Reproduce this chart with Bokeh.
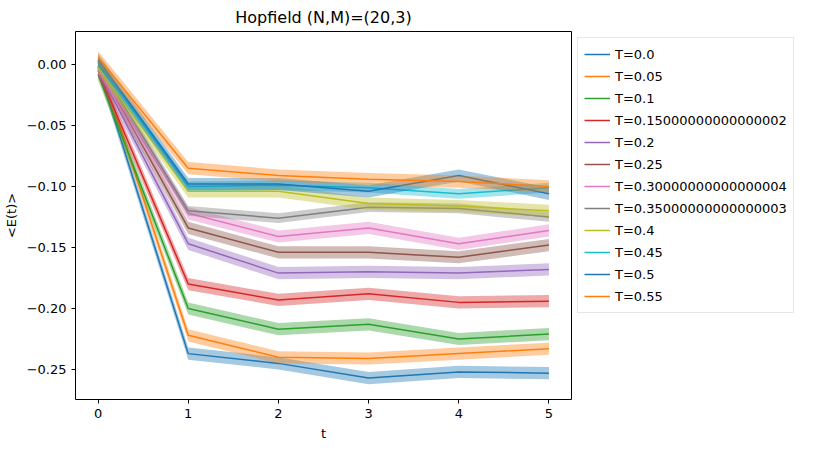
from bokeh.plotting import figure
from bokeh.models import Legend, LegendItem, CustomJSTickFormatter, Range1d
from bokeh.embed import file_html
from bokeh.resources import INLINE

t = [0, 1, 2, 3, 4, 5]
temps = ["0.0", "0.05", "0.1", "0.15000000000000002", "0.2", "0.25",
         "0.30000000000000004", "0.35000000000000003", "0.4", "0.45", "0.5", "0.55"]
energies = [
    [-0.002, -0.237, -0.245, -0.257, -0.252, -0.253],
    [0.003, -0.222, -0.240, -0.241, -0.237, -0.233],
    [-0.008, -0.200, -0.217, -0.213, -0.225, -0.221],
    [-0.005, -0.180, -0.193, -0.188, -0.195, -0.194],
    [-0.004, -0.147, -0.171, -0.170, -0.171, -0.168],
    [-0.001, -0.134, -0.154, -0.154, -0.158, -0.148],
    [-0.003, -0.122, -0.141, -0.134, -0.147, -0.136],
    [0.001, -0.120, -0.126, -0.117, -0.118, -0.125],
    [-0.002, -0.104, -0.104, -0.114, -0.116, -0.120],
    [0.002, -0.100, -0.099, -0.101, -0.106, -0.101],
    [0.004, -0.098, -0.098, -0.104, -0.091, -0.106],
    [0.006, -0.085, -0.091, -0.094, -0.096, -0.100],
]
errors = [0.005, 0.005, 0.005, 0.005, 0.005, 0.005, 0.005, 0.004, 0.005, 0.004, 0.005, 0.005]

colors = ["#1f77b4", "#ff7f0e", "#2ca02c", "#d62728", "#9467bd", "#8c564b",
          "#e377c2", "#7f7f7f", "#bcbd22", "#17becf", "#1f77b4", "#ff7f0e"]

p = figure(frame_width=496, frame_height=368, output_backend="svg", toolbar_location=None,
           title="Hopfield (N,M)=(20,3)", x_range=Range1d(-0.25, 5.25),
           y_range=Range1d(-0.2746, 0.027), min_border_left=17, min_border_top=8,
           min_border_right=6, min_border_bottom=8)
p.title.align = "center"
p.title.text_font = "DejaVu Sans"
p.title.text_font_size = "16px"
p.title.text_font_style = "normal"
p.title.text_color = "black"
p.grid.visible = False
p.outline_line_color = "black"
p.xaxis.axis_label = "t"
p.yaxis.axis_label = "<E(t)>"
for ax in (p.xaxis, p.yaxis):
    ax.axis_label_text_font = "DejaVu Sans"
    ax.axis_label_text_font_size = "13px"
    ax.axis_label_text_font_style = "normal"
    ax.axis_label_text_color = "black"
    ax.major_label_text_font = "DejaVu Sans"
    ax.major_label_text_font_size = "13px"
    ax.major_label_text_color = "black"
    ax.major_tick_line_color = "black"
    ax.minor_tick_line_color = None
    ax.major_tick_in = 0
    ax.major_tick_out = 4
    ax.axis_line_color = None
p.xaxis.ticker = t
p.yaxis.ticker = [-0.25, -0.2, -0.15, -0.1, -0.05, 0.0]
p.yaxis.formatter = CustomJSTickFormatter(code="return tick.toFixed(2).replace('-', '\u2212')")

items = []
for temp, e, err, c in zip(temps, energies, errors, colors):
    p.varea(x=t, y1=[v - err for v in e], y2=[v + err for v in e], fill_color=c, fill_alpha=0.4)
    r = p.line(t, e, line_color=c, line_width=1.5)
    items.append(LegendItem(label="T=" + temp, renderers=[r]))

legend = Legend(items=items, location="top_left", label_text_font="DejaVu Sans",
                label_text_font_size="13px", spacing=2, padding=6, margin=6,
                glyph_width=26, glyph_height=20, label_height=20,
                label_text_color="black", border_line_color="#d0d0d0")
p.add_layout(legend, "right")

open("out.html", "w").write(file_html(p, INLINE))
